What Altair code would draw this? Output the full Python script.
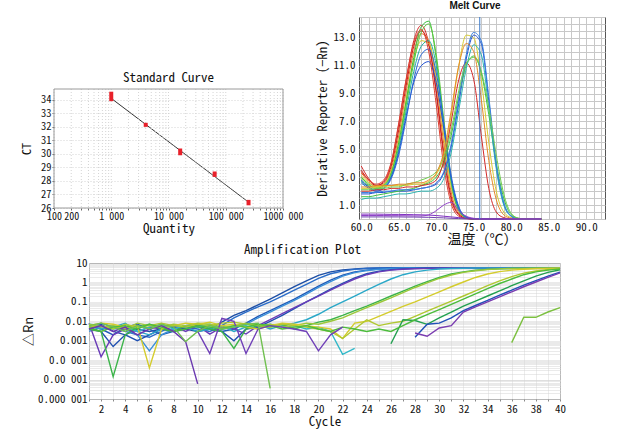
import altair as alt
import pandas as pd

MONO = "Noto Sans Mono CJK JP, Noto Sans CJK JP, DejaVu Sans Mono, monospace"
CJK = "Noto Sans CJK SC, Noto Sans CJK JP, sans-serif"

# ---------------- Standard curve data ----------------
std_qty = [1000, 4000, 16000, 64000, 250000]
std_ct = [34.2, 32.1, 30.1, 28.5, 26.4]
std_ct_lo = [33.9, 32.0, 29.9, 28.3, 26.2]
std_ct_hi = [34.6, 32.3, 30.4, 28.7, 26.6]
std_xtick_values = [100, 200, 1000, 10000, 100000, 1000000]
std_xtick_labels = ["100", "200", "1 000", "10 000", "100 000", "1000 000"]
std_yticks = [26, 27, 28, 29, 30, 31, 32, 33, 34]
std_title = ["Standard Curve"]

# ---------------- Melt curve data ----------------
melt_temp = list(range(60, 85))
melt_marker = [75.8]
melt_curves = {
    "mA1": ("#d42a2a", [3.8, 2.9, 2.4, 2.7, 4.0, 6.8, 10.0, 12.8, 13.9, 12.6, 9.0, 4.5, 1.4, 0.3, 0.05, 0, 0, 0, 0, 0, 0, 0, 0, 0, 0]),
    "mA2": ("#c41e1e", [3.5, 2.8, 2.4, 2.6, 3.8, 6.4, 9.6, 12.4, 13.5, 12.5, 9.2, 4.8, 1.6, 0.35, 0.05, 0, 0, 0, 0, 0, 0, 0, 0, 0, 0]),
    "mA3": ("#e87828", [3.3, 2.7, 2.3, 2.5, 3.6, 6.0, 9.2, 12.0, 13.3, 12.8, 9.8, 5.4, 1.9, 0.45, 0.08, 0, 0, 0, 0, 0, 0, 0, 0, 0, 0]),
    "mA4": ("#d8c828", [3.1, 2.6, 2.3, 2.5, 3.4, 5.6, 8.6, 11.4, 12.8, 12.6, 10.2, 6.0, 2.3, 0.6, 0.1, 0, 0, 0, 0, 0, 0, 0, 0, 0, 0]),
    "mA5": ("#3cc040", [3.0, 2.5, 2.2, 2.4, 3.3, 5.5, 8.5, 11.6, 13.8, 14.2, 11.5, 6.8, 2.6, 0.6, 0.1, 0, 0, 0, 0, 0, 0, 0, 0, 0, 0]),
    "mA6": ("#5cc83c", [2.9, 2.4, 2.2, 2.4, 3.2, 5.2, 8.2, 11.2, 13.4, 14.0, 11.8, 7.2, 2.9, 0.7, 0.12, 0, 0, 0, 0, 0, 0, 0, 0, 0, 0]),
    "mA7": ("#20b0a0", [2.7, 2.3, 2.1, 2.3, 3.1, 5.0, 7.8, 10.6, 12.4, 12.8, 11.0, 6.8, 2.8, 0.7, 0.1, 0, 0, 0, 0, 0, 0, 0, 0, 0, 0]),
    "mA8": ("#2050d0", [2.8, 2.3, 2.0, 2.2, 3.0, 4.8, 7.4, 9.8, 11.0, 11.3, 9.8, 6.5, 2.9, 0.8, 0.15, 0, 0, 0, 0, 0, 0, 0, 0, 0, 0]),
    "mA9": ("#2a68d8", [2.6, 2.2, 2.0, 2.2, 2.9, 4.6, 7.2, 10.0, 11.8, 12.2, 10.5, 6.9, 3.1, 0.9, 0.15, 0, 0, 0, 0, 0, 0, 0, 0, 0, 0]),
    "mA10": ("#e04030", [3.4, 2.8, 2.5, 2.8, 4.1, 6.9, 10.1, 12.6, 13.6, 12.0, 8.2, 3.8, 1.1, 0.2, 0.03, 0, 0, 0, 0, 0, 0, 0, 0, 0, 0]),
    "mB1": ("#d8cc30", [2.2, 2.2, 2.3, 2.3, 2.4, 2.4, 2.4, 2.5, 2.5, 2.7, 3.2, 4.5, 7.5, 11.0, 13.2, 13.0, 10.0, 5.5, 2.0, 0.5, 0.1, 0, 0, 0, 0]),
    "mB2": ("#2050d0", [1.8, 1.8, 1.9, 1.9, 2.0, 2.0, 2.0, 2.1, 2.2, 2.3, 2.5, 3.3, 5.2, 8.3, 11.5, 13.2, 12.6, 8.5, 3.8, 1.1, 0.2, 0, 0, 0, 0]),
    "mB3": ("#40c040", [1.6, 1.6, 1.7, 1.8, 1.9, 2.0, 2.1, 2.2, 2.4, 2.6, 3.0, 4.0, 6.0, 8.8, 11.0, 11.7, 10.5, 7.5, 4.0, 1.5, 0.3, 0.05, 0, 0, 0]),
    "mB4": ("#d42a2a", [2.0, 2.0, 2.1, 2.1, 2.2, 2.2, 2.3, 2.3, 2.4, 2.5, 2.8, 4.2, 7.0, 10.0, 11.2, 10.0, 6.0, 2.2, 0.5, 0.1, 0, 0, 0, 0, 0]),
    "mB5": ("#28b4b0", [1.4, 1.5, 1.5, 1.6, 1.7, 1.8, 1.8, 1.9, 2.0, 2.0, 2.2, 2.9, 4.8, 7.8, 10.8, 12.5, 11.8, 8.0, 3.6, 1.0, 0.2, 0, 0, 0, 0]),
    "mB6": ("#3a80e0", [1.9, 1.9, 1.9, 2.0, 2.0, 2.1, 2.1, 2.1, 2.2, 2.3, 2.6, 3.4, 5.4, 8.6, 11.8, 13.4, 12.8, 8.8, 4.0, 1.2, 0.2, 0, 0, 0, 0]),
    "mB7": ("#70cc50", [2.1, 2.1, 2.2, 2.2, 2.3, 2.3, 2.5, 2.6, 2.8, 3.0, 3.4, 4.4, 6.4, 9.2, 11.2, 11.6, 10.6, 8.0, 4.6, 1.8, 0.4, 0.05, 0, 0, 0]),
    "mB8": ("#e88a28", [2.3, 2.3, 2.4, 2.4, 2.4, 2.5, 2.5, 2.6, 2.6, 2.8, 3.3, 4.8, 7.8, 11.0, 12.6, 12.0, 8.6, 4.2, 1.4, 0.3, 0.05, 0, 0, 0, 0]),
    "mC1": ("#8030c0", [0.35, 0.35, 0.35, 0.34, 0.33, 0.33, 0.32, 0.31, 0.3, 0.28, 0.25, 0.2, 0.15, 0.1, 0.06, 0.03, 0.01, 0, 0, 0, 0, 0, 0, 0, 0]),
    "mC2": ("#9040c8", [0.25, 0.25, 0.25, 0.25, 0.24, 0.24, 0.23, 0.22, 0.22, 0.3, 0.6, 1.0, 1.2, 0.6, 0.2, 0.05, 0, 0, 0, 0, 0, 0, 0, 0, 0]),
    "mC3": ("#7040b0", [0.15, 0.15, 0.15, 0.15, 0.15, 0.15, 0.14, 0.14, 0.13, 0.12, 0.1, 0.08, 0.05, 0.03, 0.01, 0, 0, 0, 0, 0, 0, 0, 0, 0, 0]),
}

# ---------------- Amplification plot data ----------------
amp_cycles = list(range(1, 41))
N = None
amp_curves = {
    "A1": ("#1d4fa6", [.005, .007, .003, .002, .004, .003, .004, .005, .004, .003, .004, .009, .02, .035, .07, .14, .29, .6, 1.2, 2.3, 3.5, 4.4, 5.0, 5.4, 5.6, 5.7, 5.7, 5.8, 5.8, 5.8, 5.8, 5.8, 5.8, 5.8, 5.8, 5.8, 5.8, 5.8, 5.8, 5.8]),
    "A2": ("#2a6cc8", [.004, .008, .005, .003, .002, .0015, .003, .006, .005, .004, .003, .006, .015, .03, .055, .1, .2, .4, .8, 1.6, 2.8, 3.9, 4.7, 5.2, 5.5, 5.6, 5.7, 5.7, 5.7, 5.7, 5.7, 5.7, 5.7, 5.7, 5.7, 5.7, 5.7, 5.7, 5.7, 5.7]),
    "B1": ("#1f5ab8", [.006, .004, .002, .005, .007, .004, .002, .003, .005, .006, .004, .003, .004, .008, .018, .035, .07, .14, .3, .65, 1.3, 2.4, 3.5, 4.3, 4.9, 5.3, 5.5, 5.6, 5.7, 5.7, 5.7, 5.7, 5.7, 5.7, 5.7, 5.7, 5.7, 5.7, 5.7, 5.7]),
    "B2": ("#3a8fd8", [.003, .005, .006, .004, .002, .0003, .002, .004, .006, .007, .005, .004, .005, .007, .015, .03, .06, .12, .25, .55, 1.1, 2.1, 3.2, 4.1, 4.8, 5.2, 5.5, 5.6, 5.6, 5.6, 5.6, 5.6, 5.6, 5.6, 5.6, 5.6, 5.6, 5.6, 5.6, 5.6]),
    "C1": ("#2050b0", [.004, .003, .0005, .002, .001, .002, .004, .003, .004, .006, .004, .003, .001, .004, .005, .01, .02, .045, .1, .21, .45, .9, 1.7, 2.8, 3.8, 4.5, 5.0, 5.3, 5.5, 5.5, 5.6, 5.6, 5.6, 5.6, 5.6, 5.6, 5.6, 5.6, 5.6, 5.6]),
    "C2": ("#6a3cb8", [.008, .00015, .002, .004, .003, .005, .004, .006, .003, .006, .0022, .005, .004, .0022, .006, .012, .025, .05, .1, .2, .4, .8, 1.5, 2.5, 3.5, 4.3, 4.8, 5.1, 5.3, 5.4, 5.5, 5.5, 5.5, 5.5, 5.5, 5.5, 5.5, 5.5, 5.5, 5.5]),
    "E": ("#2aa8c8", [.006, .004, .005, .008, .003, .002, .004, .006, .005, .003, .004, .006, .003, .005, .007, .004, .006, .008, .012, .023, .05, .1, .2, .4, .8, 1.5, 2.5, 3.5, 4.3, 4.9, 5.2, 5.4, 5.5, 5.5, 5.5, 5.5, 5.5, 5.5, 5.5, 5.5]),
    "T2": ("#30b8c8", [.007, .006, .004, .005, .003, .005, .007, .004, .006, .005, .007, .004, .005, .006, .004, .007, .005, .006, .004, .005, .003, .0002, .0004, N, N, N, N, N, N, N, N, N, N, N, N, N, N, N, N, N]),
    "F": ("#3cb44a", [.005, .003, .000014, .002, .005, .007, .004, .003, .006, .005, .004, .003, .0004, .004, .006, .005, .007, .004, .006, .009, .012, .02, .035, .06, .11, .2, .36, .65, 1.1, 1.8, 2.7, 3.5, 4.2, 4.7, 5.0, 5.2, 5.3, 5.4, 5.4, 5.4]),
    "F2": ("#9cc83a", [.007, .005, .006, .004, .008, .006, .005, .007, .006, .008, .007, .005, .006, .008, .006, .007, .005, .006, .008, .007, .01, .015, .028, .05, .09, .16, .3, .55, .95, 1.6, 2.4, 3.3, 4.0, 4.6, 5.0, 5.2, 5.3, 5.4, 5.4, 5.4]),
    "G": ("#d4cc2c", [.006, .008, .007, .005, .006, .00004, .004, .006, .008, .007, .009, .006, .007, .005, .004, .006, .008, .007, .006, .005, .004, .0013, .008, .01, .018, .032, .058, .1, .18, .33, .6, 1.05, 1.8, 2.7, 3.6, 4.3, 4.8, 5.1, 5.3, 5.4]),
    "H": ("#b0c830", [.005, .006, .004, .007, .005, .006, .008, .006, .005, .007, .006, .008, .009, .007, .006, .005, .007, .006, .005, .004, .003, .0013, .004, .012, .006, .008, .01, .018, .033, .06, .11, .2, .37, .68, 1.2, 2.0, 3.0, 3.9, 4.6, 5.0]),
    "I1": ("#22a050", [N, N, N, N, N, N, N, N, N, N, N, N, N, N, N, N, N, N, N, N, N, N, N, N, N, .0007, .012, .011, .007, .015, .03, .06, .11, .2, .37, .68, 1.2, 2.1, 3.3, 4.5]),
    "I2": ("#4cbc3c", [.004, .003, .005, .006, .004, .007, .005, .003, .004, .006, .005, .004, .006, .005, .007, .006, .004, .005, .006, .004, .003, .005, .004, .003, .004, .003, .006, .012, .022, .04, .075, .14, .26, .48, .88, 1.5, 2.5, 3.5, 4.3, 4.9]),
    "J": ("#2050b8", [N, N, N, N, N, N, N, N, N, N, N, N, N, N, N, N, N, N, N, N, N, N, N, N, N, N, N, .0015, .007, .008, .015, .035, .065, .12, .22, .4, .72, 1.25, 2.1, 3.4]),
    "K": ("#7a3cb0", [N, N, N, N, N, N, N, N, N, N, N, N, N, N, N, N, N, N, N, N, N, N, N, N, N, N, N, .0025, .0017, .0045, .006, .03, .055, .1, .18, .33, .6, 1.05, 1.8, 3.1]),
    "L": ("#7cc040", [N, N, N, N, N, N, N, N, N, N, N, N, N, N, N, N, N, N, N, N, N, N, N, N, N, N, N, N, N, N, N, N, N, N, N, .0008, .016, .016, .03, .05]),
    "P2": ("#6a38b0", [.004, .006, .003, .005, .002, .004, .006, .003, .0009, .000006, N, N, N, N, N, N, N, N, N, N, N, N, N, N, N, N, N, N, N, N, N, N, N, N, N, N, N, N, N, N]),
    "P3": ("#7040b8", [N, N, N, N, N, N, N, N, N, .003, .00022, .014, .01, .00022, .004, .006, .005, .004, .003, .0003, .002, .005, N, N, N, N, N, N, N, N, N, N, N, N, N, N, N, N, N, N]),
    "G3": ("#70c050", [.006, .008, .005, .003, .006, .004, .007, .005, .0009, .003, .006, .004, .005, .007, .008, .0000035, N, N, N, N, N, N, N, N, N, N, N, N, N, N, N, N, N, N, N, N, N, N, N, N]),
}
amp_ytick_values = [10, 1, 0.1, 0.01, 0.001, 0.0001, 0.00001, 0.000001]
amp_ytick_labels = ["10", "1", "0.1", "0.01", "0.001", "0.0 001", "0.00 001", "0.000 001"]

# ---------------- frames ----------------
std_df = pd.DataFrame({"qty": std_qty, "ct": std_ct, "lo": std_ct_lo, "hi": std_ct_hi})

melt_rows = []
for name, (col, vals) in melt_curves.items():
    for t, v in zip(melt_temp, vals):
        melt_rows.append({"curve": name, "col": col, "temp": t, "val": v})
melt_df = pd.DataFrame(melt_rows)

amp_rows = []
for name, (col, vals) in amp_curves.items():
    for c, v in zip(amp_cycles, vals):
        if v is not None:
            amp_rows.append({"curve": name, "col": col, "cycle": c, "rn": v})
amp_df = pd.DataFrame(amp_rows)


def label_expr(values, labels):
    parts = []
    for v, l in zip(values, labels):
        parts.append(f"abs(datum.value - {v}) < {abs(v) * 1e-6 + 1e-12} ? '{l}'")
    return " : ".join(parts) + " : ''"


# ---------------- Standard curve chart ----------------
# The view is taller than the framed plot; the y scale uses only its lower part.
STD_H = 191
std_minor = [m * 10 ** k for k in range(2, 6) for m in range(1, 10)] + [1000000]
std_xaxis = alt.Axis(values=std_minor, labelExpr=label_expr(std_xtick_values, std_xtick_labels),
                     title="Quantity", labelOverlap=False, tickSize=2, tickColor="#666",
                     grid=False, domain=False,
                     labelFont=MONO, labelFontSize=10, labelColor="#111",
                     titleFont=MONO, titleFontSize=13, titleFontWeight="normal", titleColor="#111",
                     titlePadding=1, labelPadding=1, labelFlush=False)
std_xscale = alt.Scale(type="log", domain=[100, 1000000])
std_x = alt.X("qty:Q", scale=std_xscale, axis=std_xaxis)
std_yaxis = alt.Axis(values=std_yticks, title="CT", titleY=(72 + STD_H) / 2,
                     labelOverlap=False, tickSize=2, tickColor="#666",
                     gridColor="#d4d4d4", gridDash=[1, 2], domain=False,
                     labelFont=MONO, labelFontSize=10.5, labelColor="#111",
                     titleFont=MONO, titleFontSize=12, titleFontWeight="normal", titleColor="#111",
                     titlePadding=7, labelPadding=1)
std_yscale = alt.Scale(domain=[26, 34.8], range=[STD_H, 72], nice=False, zero=False)

std_base = alt.Chart(std_df)
std_line = std_base.mark_line(color="#333", strokeWidth=1).encode(
    x=std_x, y=alt.Y("ct:Q", scale=std_yscale, axis=std_yaxis)
).transform_regression("qty", "ct", method="log")
std_grid = alt.Chart(pd.DataFrame({"qty": std_minor})).mark_rule(
    color="#d4d4d4", strokeDash=[1, 2], strokeWidth=1
).encode(x=std_x, y=alt.datum(34.8, scale=std_yscale, axis=std_yaxis), y2=alt.datum(26))
std_frame = alt.Chart(pd.DataFrame({"qty": [100]})).mark_rect(
    filled=False, stroke="#9a9a9a", strokeWidth=1
).encode(x=std_x, x2=alt.datum(1000000),
         y=alt.datum(26, scale=std_yscale, axis=std_yaxis), y2=alt.datum(34.8))
std_marks = std_base.mark_rule(color="#e8202a", strokeWidth=4).encode(
    x=std_x, y=alt.Y("lo:Q", scale=std_yscale, axis=std_yaxis), y2="hi:Q"
)
std_head = alt.Chart(pd.DataFrame({"t": std_title})).mark_text(
    font=MONO, fontSize=13, color="#111", baseline="middle", align="center"
).encode(x=alt.datum(10000, scale=std_xscale, axis=std_xaxis),
         y=alt.datum(35.65, scale=std_yscale, axis=std_yaxis), text="t:N")
std_chart = alt.layer(std_line, std_grid, std_frame, std_marks, std_head).properties(
    width=229, height=STD_H,
    view=alt.ViewBackground(stroke="transparent", strokeWidth=0),
)

# ---------------- Melt curve chart ----------------
melt_x = alt.X("temp:Q", scale=alt.Scale(domain=[59.7, 92.5], nice=False, zero=False),
               axis=alt.Axis(values=list(range(60, 93)),
                             labelExpr="datum.value % 5 == 0 ? format(datum.value, '.1f') : ''",
                             title="温度（℃）", labelOverlap=False, ticks=False, domain=False,
                             gridColor="#c8c8c8", gridWidth=1,
                             labelFont=MONO, labelFontSize=11, labelColor="#111",
                             titleFont=CJK, titleFontSize=14, titleFontWeight="normal", titleColor="#111",
                             titlePadding=0, labelPadding=2, labelFlush=False))
melt_y = alt.Y("val:Q", scale=alt.Scale(domain=[0, 14.5], nice=False),
               axis=alt.Axis(values=[0.5 * i for i in range(30)],
                             labelExpr="datum.value % 2 == 1 ? format(datum.value, '.1f') : ''",
                             title="Deriative Reporter (−Rn)", labelOverlap=False, ticks=False, domain=False,
                             gridColor="#c8c8c8", gridWidth=1,
                             labelFont=MONO, labelFontSize=11, labelColor="#111",
                             titleFont=MONO, titleFontSize=13, titleFontWeight="normal", titleColor="#111",
                             titlePadding=4, labelPadding=4))
melt_lines = alt.Chart(melt_df).mark_line(interpolate="monotone", strokeWidth=1).encode(
    x=melt_x, y=melt_y,
    color=alt.Color("col:N", scale=None),
    detail="curve:N",
)
melt_rule = alt.Chart(pd.DataFrame({"temp": melt_marker})).mark_rule(color="#3a78c8", strokeWidth=1).encode(
    x=melt_x
)
melt_chart = alt.layer(melt_lines, melt_rule).properties(
    width=246, height=202,
    title=alt.Title("Melt Curve", font="Liberation Sans", fontSize=10, fontWeight="bold", color="#111",
                    offset=0, dx=-7),
    view=alt.ViewBackground(stroke="#555", strokeWidth=1),
)

# ---------------- Amplification chart ----------------
amp_minor = [m * 10.0 ** k for k in range(-6, 1) for m in range(1, 10)] + [10]
amp_chart = alt.Chart(amp_df).mark_line(strokeWidth=1.4).encode(
    x=alt.X("cycle:Q", scale=alt.Scale(domain=[1, 40], nice=False, zero=False),
            axis=alt.Axis(values=list(range(1, 41)),
                          labelExpr="datum.value % 2 == 0 ? datum.value : ''",
                          title="Cycle", labelOverlap=False, tickSize=2, tickColor="#888", domain=False,
                          gridColor="#d8d8d8", gridDash=[1, 1],
                          labelFont=MONO, labelFontSize=11, labelColor="#111",
                          titleFont=MONO, titleFontSize=13, titleFontWeight="normal", titleColor="#111",
                          titlePadding=1, labelPadding=2, labelFlush=False)),
    y=alt.Y("rn:Q", scale=alt.Scale(type="log", domain=[0.000001, 10], nice=False),
            axis=alt.Axis(values=amp_minor,
                          labelExpr=label_expr(amp_ytick_values, amp_ytick_labels),
                          title="△Rn", labelOverlap=False, ticks=False, domain=False,
                          gridColor="#d4d4d4", gridDash=[1, 1],
                          labelFont=MONO, labelFontSize=11, labelColor="#111",
                          titleFont=CJK, titleFontSize=13, titleFontWeight="normal", titleColor="#111",
                          titlePadding=2, labelPadding=2)),
    color=alt.Color("col:N", scale=None),
    detail="curve:N",
).properties(
    width=471, height=136,
    title=alt.Title("Amplification Plot", font=MONO, fontSize=13, fontWeight="normal", color="#111",
                    offset=0, dx=-22),
    view=alt.ViewBackground(stroke="#9a9a9a", strokeWidth=1),
)

anchor = alt.Chart(pd.DataFrame({"a": [0]})).mark_point(opacity=0).encode(
    x=alt.X("a:Q", axis=None, scale=alt.Scale(domain=[0, 1])),
    y=alt.Y("a:Q", axis=None, scale=alt.Scale(domain=[0, 1])),
).properties(width=1, height=1, view=alt.ViewBackground(stroke="transparent", strokeWidth=0))

row1 = alt.hconcat(std_chart, melt_chart, spacing=12)
row2 = alt.hconcat(anchor, amp_chart, spacing=-35)
chart = alt.vconcat(row1, row2, spacing=-4).properties(
    padding={"left": 20, "top": 0, "right": 0, "bottom": 0},
    background="white",
).configure_view(stroke="#999")

chart.save("out.html", embed_options={"renderer": "svg", "actions": False})
